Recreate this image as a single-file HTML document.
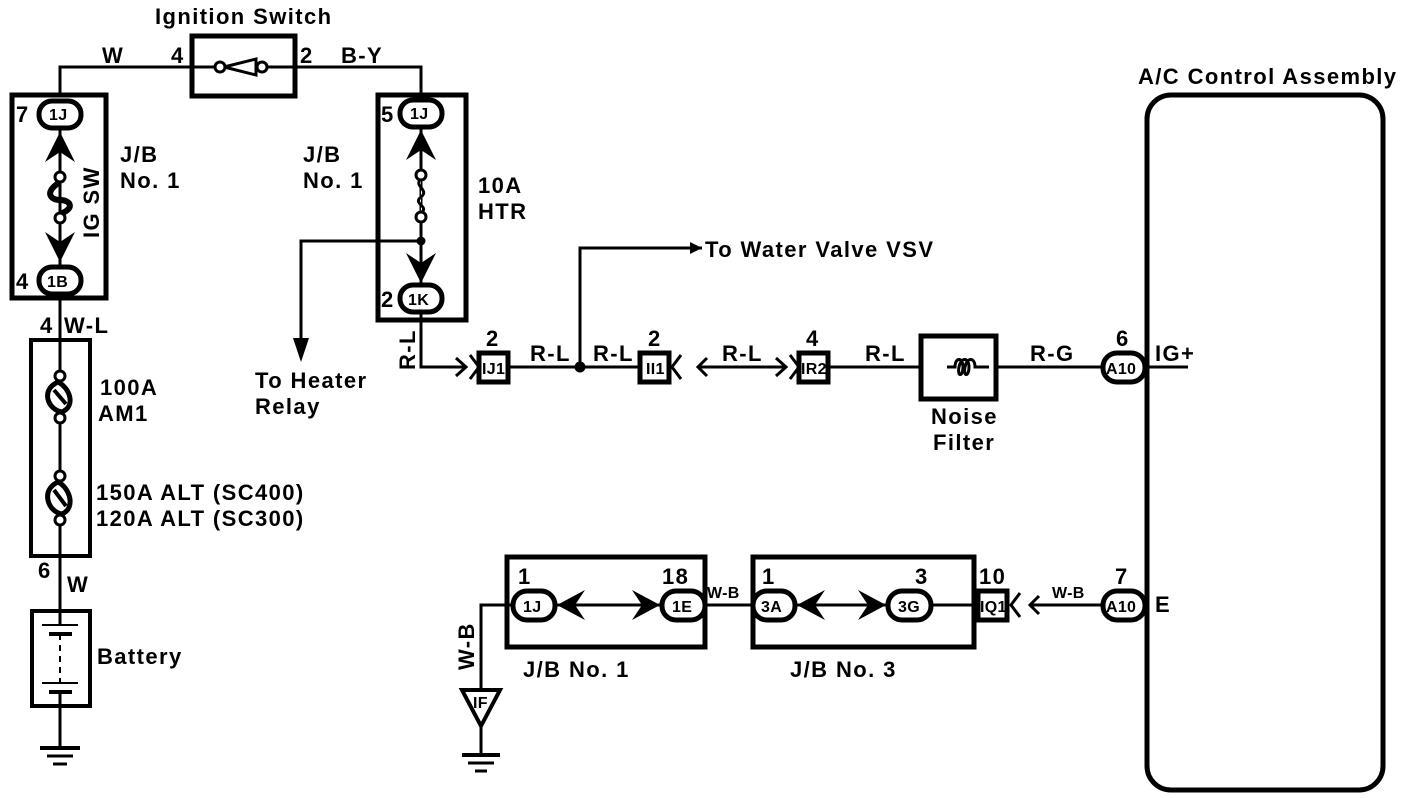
<!DOCTYPE html>
<html><head><meta charset="utf-8"><style>
html,body{margin:0;padding:0;background:#fff;}
svg{display:block;}
text{font-family:"Liberation Sans",sans-serif;font-size:22px;font-weight:bold;fill:#000;letter-spacing:1.4px;}
.s{font-size:16px;letter-spacing:0.3px;}
</style></head><body>
<svg width="1408" height="798" viewBox="0 0 1408 798" xmlns="http://www.w3.org/2000/svg">
<g fill="none" stroke="#000" stroke-width="3">
<rect x="192" y="36" width="103" height="60" stroke-width="5"/>
<polyline points="60,96 60,67 192,67"/>
<polyline points="295,67 421,67 421,96"/>
<line x1="192" y1="67" x2="215" y2="67"/>
<circle cx="220" cy="67" r="5"/>
<polyline points="224,67 256,59 256,75 224,67"/>
<circle cx="262" cy="67" r="5"/>
<line x1="267" y1="67" x2="295" y2="67"/>
<rect x="12" y="95" width="94" height="203" stroke-width="5"/>
<line x1="60" y1="128" x2="60" y2="268"/>
<path d="M60,182 C44,192 50,200 60,200 C70,200 76,208 60,214" stroke-width="6"/>
<circle cx="60" cy="177" r="5" fill="#fff"/>
<circle cx="60" cy="218" r="5" fill="#fff"/>
<rect x="378" y="95" width="88" height="225" stroke-width="5"/>
<line x1="421" y1="128" x2="421" y2="284"/>
<path d="M421,179 C413,186 430,190 421,197 C412,204 430,206 421,213" fill="#fff"/>
<circle cx="421" cy="175" r="5" fill="#fff"/>
<circle cx="421" cy="217" r="5" fill="#fff"/>
<polyline points="421,241 301,241 301,345"/>
<circle cx="421" cy="241" r="3" fill="#000"/>
<line x1="60" y1="298" x2="60" y2="748"/>
<rect x="31" y="340" width="59" height="216" stroke-width="4"/>
<path d="M58,382 C40,390 48,410 62,412 C76,406 70,388 58,382 Z" stroke-width="5" fill="#fff"/>
<path d="M54,390 L66,404" stroke-width="4"/>
<circle cx="60" cy="376" r="5" fill="#fff"/>
<circle cx="60" cy="418" r="5" fill="#fff"/>
<path d="M58,482 C40,490 48,512 62,514 C76,508 70,488 58,482 Z" stroke-width="5" fill="#fff"/>
<path d="M54,490 L66,506" stroke-width="4"/>
<circle cx="60" cy="476" r="5" fill="#fff"/>
<circle cx="60" cy="520" r="5" fill="#fff"/>
<rect x="32" y="611" width="58" height="95" stroke-width="4" fill="#fff"/>
<line x1="60" y1="596" x2="60" y2="625"/>
<line x1="42" y1="625" x2="78" y2="625" stroke-width="2"/>
<line x1="49" y1="634" x2="72" y2="634" stroke-width="4"/>
<line x1="60" y1="634" x2="60" y2="685" stroke-dasharray="6,5" stroke-width="2"/>
<line x1="42" y1="683" x2="78" y2="683" stroke-width="2"/>
<line x1="49" y1="692" x2="72" y2="692" stroke-width="4"/>
<line x1="60" y1="692" x2="60" y2="748"/>
<line x1="40" y1="748" x2="80" y2="748" stroke-width="4"/>
<line x1="47" y1="756" x2="73" y2="756" stroke-width="3"/>
<line x1="53" y1="764" x2="67" y2="764" stroke-width="3"/>
<polyline points="421,310 421,367 466,367"/>
<polyline points="456,358 466,367 456,376"/>
<rect x="479" y="353" width="29" height="29" stroke-width="5"/>
<line x1="470" y1="355" x2="479" y2="367"/><line x1="470" y1="379" x2="479" y2="367"/>
<line x1="508" y1="367" x2="640" y2="367"/>
<polyline points="580,367 580,248 690,248"/>
<circle cx="580" cy="367" r="4" fill="#000"/>
<line x1="690" y1="248" x2="702" y2="248"/>
<rect x="640" y="353" width="29" height="29" stroke-width="5"/>
<polyline points="681,355 672,367 681,379"/>
<line x1="698" y1="367" x2="786" y2="367"/>
<polyline points="707,358 698,367 707,376"/>
<polyline points="776,358 786,367 776,376"/>
<line x1="790" y1="355" x2="799" y2="367"/><line x1="790" y1="379" x2="799" y2="367"/>
<rect x="799" y="353" width="29" height="29" stroke-width="5"/>
<line x1="828" y1="367" x2="921" y2="367"/>
<rect x="921" y="336" width="75" height="63" stroke-width="5"/>
<path d="M947,367 h8 c0,-10 8,-10 8,0 c0,10 -6,10 -4,0 c2,-10 10,-10 10,0 c0,10 -6,10 -4,0 c2,-10 10,-10 10,0 h14"/>
<line x1="996" y1="367" x2="1103" y2="367"/>
<line x1="1145" y1="367" x2="1188" y2="367"/>
<rect x="1147" y="95" width="236" height="695" rx="24" stroke-width="5"/>
<rect x="507" y="557" width="198" height="90" stroke-width="5"/>
<rect x="753" y="557" width="221" height="90" stroke-width="5"/>
<line x1="555" y1="605" x2="662" y2="605"/>
<line x1="795" y1="605" x2="888" y2="605"/>
<line x1="705" y1="605" x2="753" y2="605"/>
<line x1="931" y1="605" x2="978" y2="605"/>
<rect x="978" y="591" width="29" height="29" stroke-width="5"/>
<polyline points="1020,593 1011,605 1020,617"/>
<line x1="1030" y1="605" x2="1103" y2="605"/>
<polyline points="1039,596 1030,605 1039,614"/>
<polyline points="512,605 481,605 481,690"/>
<polygon points="462,690 500,690 481,726" stroke-width="4" fill="#fff"/>
<line x1="481" y1="726" x2="481" y2="755"/>
<line x1="462" y1="755" x2="500" y2="755" stroke-width="4"/>
<line x1="468" y1="763" x2="494" y2="763" stroke-width="3"/>
<line x1="475" y1="771" x2="487" y2="771" stroke-width="3"/>
</g>
<polygon points="690,242 702,248 690,254" fill="#000"/>
<polygon points="293,338 309,338 301,362" fill="#000"/>
<g fill="#000">
<polygon points="60,132 75,162 60,152 45,162"/>
<polygon points="60,262 75,232 60,242 45,232"/>
<polygon points="421,130 436,160 421,150 406,160"/>
<polygon points="421,283 436,253 421,263 406,253"/>
<polygon points="557,605 585,590 575,605 585,620"/>
<polygon points="660,605 632,590 642,605 632,620"/>
<polygon points="797,605 825,590 815,605 825,620"/>
<polygon points="886,605 858,590 868,605 858,620"/>
</g>
<g fill="#fff" stroke="#000" stroke-width="5">
<rect x="39" y="101" width="42" height="27" rx="13"/>
<rect x="39" y="267" width="42" height="27" rx="13"/>
<rect x="400" y="100" width="42" height="27" rx="13"/>
<rect x="400" y="285" width="42" height="27" rx="13"/>
<rect x="1103" y="353" width="42" height="29" rx="14"/>
<rect x="1103" y="591" width="42" height="29" rx="14"/>
<rect x="513" y="591" width="42" height="29" rx="14"/>
<rect x="662" y="591" width="43" height="29" rx="14"/>
<rect x="753" y="591" width="42" height="29" rx="14"/>
<rect x="888" y="591" width="43" height="29" rx="14"/>
</g>
<text x="155" y="24">Ignition Switch</text>
<text x="102" y="63">W</text>
<text x="171" y="63">4</text>
<text x="300" y="63">2</text>
<text x="341" y="63">B-Y</text>
<text x="16" y="122">7</text>
<text class="s" x="49" y="120">1J</text>
<text x="16" y="289">4</text>
<text class="s" x="47" y="287">1B</text>
<text x="381" y="122">5</text>
<text class="s" x="410" y="119">1J</text>
<text x="381" y="307">2</text>
<text class="s" x="408" y="305">1K</text>
<text x="120" y="162">J/B</text>
<text x="120" y="188">No. 1</text>
<text x="303" y="162">J/B</text>
<text x="303" y="188">No. 1</text>
<text x="478" y="193">10A</text>
<text x="478" y="219">HTR</text>
<text x="0" y="0" transform="translate(99,238) rotate(-90)">IG SW</text>
<text x="40" y="333">4</text>
<text x="64" y="333">W-L</text>
<text x="100" y="395">100A</text>
<text x="98" y="421">AM1</text>
<text x="96" y="500">150A ALT (SC400)</text>
<text x="96" y="526">120A ALT (SC300)</text>
<text x="38" y="578">6</text>
<text x="67" y="592">W</text>
<text x="97" y="664">Battery</text>
<text x="255" y="388">To Heater</text>
<text x="255" y="414">Relay</text>
<text x="0" y="0" transform="translate(415,370) rotate(-90)">R-L</text>
<text x="705" y="257">To Water Valve VSV</text>
<text x="486" y="346">2</text>
<text class="s" x="482" y="374">IJ1</text>
<text x="530" y="361">R-L</text>
<text x="593" y="361">R-L</text>
<text x="648" y="346">2</text>
<text class="s" x="646" y="374">II1</text>
<text x="722" y="361">R-L</text>
<text x="806" y="346">4</text>
<text class="s" x="801" y="374">IR2</text>
<text x="865" y="361">R-L</text>
<text x="931" y="424">Noise</text>
<text x="933" y="450">Filter</text>
<text x="1030" y="361">R-G</text>
<text x="1116" y="346">6</text>
<text class="s" x="1106" y="374">A10</text>
<text x="1155" y="361">IG+</text>
<text x="1138" y="84">A/C Control Assembly</text>
<text x="518" y="584">1</text>
<text class="s" x="523" y="612">1J</text>
<text x="662" y="584">18</text>
<text class="s" x="672" y="612">1E</text>
<text class="s" x="707" y="598">W-B</text>
<text x="762" y="584">1</text>
<text class="s" x="761" y="612">3A</text>
<text x="915" y="584">3</text>
<text class="s" x="898" y="612">3G</text>
<text x="979" y="584">10</text>
<text class="s" x="980" y="612">IQ1</text>
<text class="s" x="1052" y="598">W-B</text>
<text x="1115" y="584">7</text>
<text class="s" x="1106" y="612">A10</text>
<text x="1155" y="612">E</text>
<text x="0" y="0" transform="translate(474,670) rotate(-90)">W-B</text>
<text class="s" x="473" y="708">IF</text>
<text x="523" y="677">J/B No. 1</text>
<text x="790" y="677">J/B No. 3</text>
</svg>
</body></html>
